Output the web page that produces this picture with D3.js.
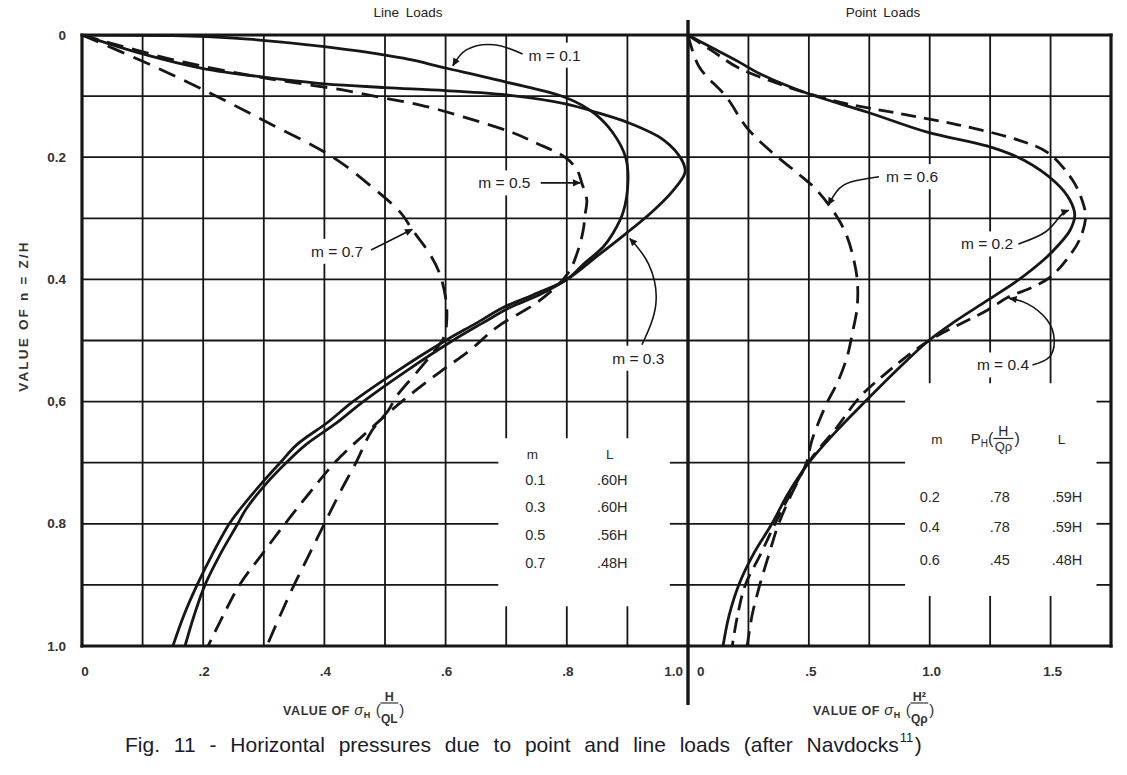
<!DOCTYPE html>
<html><head><meta charset="utf-8">
<script src="https://cdn.jsdelivr.net/npm/d3@7"></script>
<style>
body{margin:0;background:#fff}
svg{display:block;font-family:"Liberation Sans",Arial,Helvetica,sans-serif}
</style>
</head><body>
<svg id="c" width="1127" height="775"></svg>
<script>
// ---------------- DATA ----------------
const nTicks = [0, 0.2, 0.4, 0.6, 0.8, 1.0];
const nTickLabels = ["0", "0.2", "0.4", "0,6", "0.8", "1.0"];
const lineTicks = [0, 0.2, 0.4, 0.6, 0.8, 1.0];
const lineTickLabels = ["0", ".2", ".4", ".6", ".8", "1.0"];
const pointTicks = [0, 0.5, 1.0, 1.5];
const pointTickLabels = ["0", ".5", "1.0", "1.5"];
const nGrid = [0.1, 0.2, 0.3, 0.4, 0.5, 0.6, 0.7, 0.8, 0.9];
const lineGrid = [0.1, 0.2, 0.3, 0.4, 0.5, 0.6, 0.7, 0.8, 0.9];
const pointGrid = [0.25, 0.5, 0.75, 1.0, 1.25, 1.5];

// Line loads: [sigma_H * H/QL, n]
const lineM01 = [[0,0],[0.15,0.001],[0.25,0.005],[0.4,0.019],[0.53,0.038],[0.6,0.054],[0.7,0.077],[0.8,0.103],[0.845,0.128],[0.876,0.16],[0.897,0.2],[0.901,0.238],[0.893,0.29],[0.876,0.325],[0.86,0.347],[0.83,0.373],[0.80,0.40],[0.745,0.425],[0.695,0.446],[0.65,0.472],[0.60,0.50],[0.52,0.55],[0.447,0.60],[0.404,0.635],[0.355,0.67],[0.327,0.70],[0.297,0.733],[0.26,0.777],[0.243,0.80],[0.215,0.85],[0.19,0.90],[0.168,0.95],[0.15,1.0]];
const lineM03 = [[0,0],[0.1,0.031],[0.2,0.055],[0.3,0.069],[0.4,0.08],[0.5,0.086],[0.6,0.091],[0.7,0.098],[0.8,0.113],[0.85,0.127],[0.9,0.143],[0.96,0.172],[0.99,0.205],[0.995,0.225],[0.975,0.255],[0.94,0.29],[0.895,0.327],[0.85,0.362],[0.805,0.397],[0.755,0.425],[0.706,0.446],[0.66,0.472],[0.612,0.50],[0.535,0.55],[0.464,0.60],[0.42,0.635],[0.37,0.67],[0.337,0.70],[0.305,0.733],[0.27,0.777],[0.257,0.80],[0.228,0.85],[0.203,0.90],[0.185,0.95],[0.17,1.0]];
const lineM05 = [[0,0],[0.153,0.041],[0.3,0.07],[0.43,0.09],[0.497,0.103],[0.56,0.115],[0.629,0.134],[0.711,0.16],[0.75,0.177],[0.797,0.2],[0.817,0.221],[0.825,0.243],[0.833,0.27],[0.83,0.295],[0.827,0.32],[0.817,0.357],[0.802,0.39],[0.756,0.434],[0.685,0.478],[0.64,0.516],[0.59,0.552],[0.53,0.598],[0.47,0.65],[0.417,0.70],[0.375,0.75],[0.335,0.80],[0.297,0.85],[0.26,0.90],[0.233,0.95],[0.208,1.0]];
const lineM07 = [[0,0],[0.1,0.043],[0.195,0.087],[0.3,0.14],[0.414,0.20],[0.48,0.25],[0.525,0.29],[0.546,0.32],[0.575,0.36],[0.59,0.39],[0.60,0.43],[0.602,0.465],[0.597,0.495],[0.575,0.525],[0.55,0.555],[0.52,0.59],[0.505,0.615],[0.478,0.648],[0.452,0.70],[0.425,0.75],[0.40,0.80],[0.375,0.85],[0.35,0.90],[0.327,0.95],[0.305,1.0]];

// Point loads: [sigma_H * H^2/Qp, n]
const pointM02 = [[0,0],[0.1,0.021],[0.21,0.044],[0.3,0.064],[0.49,0.095],[0.74,0.126],[0.99,0.159],[1.24,0.182],[1.39,0.205],[1.52,0.241],[1.58,0.27],[1.60,0.295],[1.58,0.32],[1.53,0.345],[1.48,0.365],[1.37,0.40],[1.24,0.434],[1.10,0.47],[0.99,0.502],[0.86,0.55],[0.733,0.60],[0.61,0.65],[0.50,0.70],[0.415,0.75],[0.347,0.80],[0.27,0.85],[0.21,0.90],[0.17,0.95],[0.145,1.0]];
const pointM04 = [[0,0],[0.1,0.026],[0.21,0.054],[0.39,0.082],[0.49,0.095],[0.65,0.112],[0.867,0.128],[1.117,0.147],[1.367,0.172],[1.49,0.193],[1.59,0.237],[1.63,0.27],[1.645,0.298],[1.62,0.335],[1.575,0.363],[1.50,0.396],[1.43,0.412],[1.32,0.43],[1.24,0.45],[0.99,0.502],[0.80,0.56],[0.71,0.593],[0.61,0.645],[0.505,0.696],[0.425,0.75],[0.36,0.80],[0.30,0.85],[0.237,0.90],[0.205,0.95],[0.183,1.0]];
const pointM06 = [[0,0],[0.046,0.052],[0.158,0.101],[0.244,0.152],[0.35,0.193],[0.45,0.225],[0.533,0.254],[0.617,0.298],[0.658,0.33],[0.683,0.363],[0.70,0.40],[0.70,0.445],[0.68,0.488],[0.658,0.527],[0.617,0.57],[0.575,0.602],[0.513,0.663],[0.49,0.70],[0.43,0.75],[0.375,0.80],[0.335,0.85],[0.297,0.90],[0.265,0.95],[0.245,1.0]];

// tables
const lineTableM = ["0.1", "0.3", "0.5", "0.7"];
const lineTableL = [".60H", ".60H", ".56H", ".48H"];
const pointTableM = ["0.2", "0.4", "0.6"];
const pointTableP = [".78", ".78", ".45"];
const pointTableL = [".59H", ".59H", ".48H"];

// ---------------- SCALES ----------------
const svg = d3.select("#c");
const yS = d3.scaleLinear().domain([0, 1]).range([35, 646]);
const xL = d3.scaleLinear().domain([0, 1]).range([82, 688]);
const xR = d3.scaleLinear().domain([0, 1.75]).range([688, 1111]);
const INK = "#161616";

// blank table areas (grid removed)
const lineBlank = {v0: 0.687, v1: 0.97, n0: 0.66, n1: 0.935};
const pointBlank = {v0: 0.898, v1: 1.69, n0: 0.57, n1: 0.918};

const defs = svg.append("defs");
defs.append("marker").attr("id", "ah").attr("viewBox", "0 0 10 10")
  .attr("refX", 9).attr("refY", 5).attr("markerWidth", 10).attr("markerHeight", 8)
  .attr("markerUnits", "userSpaceOnUse").attr("orient", "auto")
  .append("path").attr("d", "M0,0.5 L10,5 L0,9.5 Z").attr("fill", INK);
defs.append("clipPath").attr("id", "clipL").append("rect")
  .attr("x", xL(0)).attr("y", yS(0)).attr("width", xL(1) - xL(0)).attr("height", yS(1) - yS(0));
defs.append("clipPath").attr("id", "clipR").append("rect")
  .attr("x", xR(0)).attr("y", yS(0)).attr("width", xR(1.75) - xR(0)).attr("height", yS(1) - yS(0));

// ---------------- GRID ----------------
function drawGrid(x, vGrid, vMax, blank) {
  const g = svg.append("g").attr("stroke", INK).attr("stroke-width", 1.8);
  vGrid.forEach(v => {
    const segs = (v > blank.v0 && v < blank.v1) ? [[0, blank.n0], [blank.n1, 1]] : [[0, 1]];
    segs.forEach(s => g.append("line").attr("x1", x(v)).attr("x2", x(v)).attr("y1", yS(s[0])).attr("y2", yS(s[1])));
  });
  nGrid.forEach(n => {
    const segs = (n > blank.n0 && n < blank.n1) ? [[0, blank.v0], [blank.v1, vMax]] : [[0, vMax]];
    segs.forEach(s => g.append("line").attr("x1", x(s[0])).attr("x2", x(s[1])).attr("y1", yS(n)).attr("y2", yS(n)));
  });
}
drawGrid(xL, lineGrid, 1, lineBlank);
drawGrid(xR, pointGrid, 1.75, pointBlank);

// borders
const bg = svg.append("g").attr("stroke", INK).attr("stroke-width", 3.2).attr("stroke-linecap", "square");
bg.append("line").attr("x1", xL(0)).attr("x2", xR(1.75)).attr("y1", yS(0)).attr("y2", yS(0));
bg.append("line").attr("x1", xL(0)).attr("x2", xR(1.75)).attr("y1", yS(1)).attr("y2", yS(1));
bg.append("line").attr("x1", xL(0)).attr("x2", xL(0)).attr("y1", yS(0)).attr("y2", yS(1));
bg.append("line").attr("x1", xR(1.75)).attr("x2", xR(1.75)).attr("y1", yS(0)).attr("y2", yS(1));
svg.append("line").attr("x1", xL(1)).attr("x2", xL(1)).attr("y1", 20).attr("y2", 705)
  .attr("stroke", INK).attr("stroke-width", 3.4);

// ---------------- CURVES ----------------
function curve(data, x, clip, dash) {
  const gen = d3.line().x(d => x(d[0])).y(d => yS(d[1])).curve(d3.curveCatmullRom.alpha(0.5));
  svg.append("path").attr("d", gen(data)).attr("fill", "none").attr("stroke", INK)
    .attr("stroke-width", 2.8).attr("stroke-linejoin", "round")
    .attr("stroke-dasharray", dash || null).attr("clip-path", "url(#" + clip + ")");
}
curve(lineM01, xL, "clipL");
curve(lineM03, xL, "clipL");
curve(lineM05, xL, "clipL", "17,9");
curve(lineM07, xL, "clipL", "18,10");
curve(pointM02, xR, "clipR");
curve(pointM04, xR, "clipR", "15,8");
curve(pointM06, xR, "clipR", "17,9");

// ---------------- ANNOTATIONS ----------------
const lineNotes = [
  {t: "m = 0.1", at: [0.78, 0.033], arrow: [[0.727, 0.031], [0.68, 0.016], [0.635, 0.024], [0.612, 0.05]]},
  {t: "m = 0.5", at: [0.697, 0.242], arrow: [[0.757, 0.242], [0.822, 0.242]]},
  {t: "m = 0.7", at: [0.421, 0.354], arrow: [[0.477, 0.352], [0.515, 0.333], [0.545, 0.318]]},
  {t: "m = 0.3", at: [0.918, 0.529], arrow: [[0.924, 0.507], [0.947, 0.44], [0.935, 0.375], [0.904, 0.333]]}
];
const pointNotes = [
  {t: "m = 0.6", at: [0.927, 0.232], arrow: [[0.79, 0.232], [0.67, 0.241], [0.615, 0.256], [0.58, 0.278]]},
  {t: "m = 0.2", at: [1.237, 0.342], arrow: [[1.367, 0.342], [1.48, 0.322], [1.54, 0.296], [1.575, 0.287]]},
  {t: "m = 0.4", at: [1.303, 0.54], arrow: [[1.425, 0.54], [1.495, 0.527], [1.515, 0.498], [1.485, 0.466], [1.405, 0.44], [1.33, 0.431]]}
];
function notes(list, x) {
  list.forEach(o => {
    const g = svg.append("g");
    const t = g.append("text").attr("x", x(o.at[0])).attr("y", yS(o.at[1]))
      .attr("text-anchor", "middle").attr("dominant-baseline", "central")
      .attr("font-size", 15.5).attr("fill", "#222").text(o.t);
    const b = t.node().getBBox();
    g.insert("rect", "text").attr("x", b.x - 4).attr("y", b.y - 4).attr("width", b.width + 8)
      .attr("height", b.height + 8).attr("fill", "#fff");
    const gen = d3.line().x(d => x(d[0])).y(d => yS(d[1])).curve(d3.curveNatural);
    svg.append("path").attr("d", gen(o.arrow)).attr("fill", "none").attr("stroke", INK)
      .attr("stroke-width", 1.6).attr("marker-end", "url(#ah)");
  });
}
notes(lineNotes, xL);
notes(pointNotes, xR);

// ---------------- TABLES ----------------
const tt = {size: 14.5, fill: "#2a2a2a"};
function cell(x, y, s, size) {
  return svg.append("text").attr("x", x).attr("y", y).attr("text-anchor", "middle")
    .attr("dominant-baseline", "central").attr("font-size", size || tt.size).attr("fill", tt.fill).text(s);
}
cell(xL(0.743), yS(0.686), "m", 13.5);
cell(xL(0.871), yS(0.686), "L", 13.5);
const lineRowsN = [0.728, 0.773, 0.818, 0.864];
lineTableM.forEach((s, i) => cell(xL(0.748), yS(lineRowsN[i]), s));
lineTableL.forEach((s, i) => cell(xL(0.875), yS(lineRowsN[i]), s));

cell(xR(1.03), yS(0.662), "m", 13.5);
cell(xR(1.545), yS(0.662), "L", 13.5);
// P_H (H / Qp) header
(function () {
  const cy = yS(0.662);
  const x0 = xR(1.17);
  const t = svg.append("text").attr("x", x0).attr("y", cy + 5).attr("font-size", 15).attr("fill", tt.fill);
  t.append("tspan").text("P");
  t.append("tspan").attr("font-size", 10).attr("dy", 3).text("H");
  t.append("tspan").attr("dy", -3).attr("font-size", 16).text("(");
  const e = x0 + t.node().getComputedTextLength();
  const fc = e + 10;
  svg.append("text").attr("x", fc).attr("y", cy - 3).attr("text-anchor", "middle").attr("font-size", 14).attr("fill", tt.fill).text("H");
  svg.append("line").attr("x1", fc - 10).attr("x2", fc + 10).attr("y1", cy - 1).attr("y2", cy - 1).attr("stroke", tt.fill).attr("stroke-width", 1.2);
  svg.append("text").attr("x", fc).attr("y", cy + 12).attr("text-anchor", "middle").attr("font-size", 13).attr("fill", tt.fill).text("Qρ");
  svg.append("text").attr("x", fc + 11).attr("y", cy + 5).attr("font-size", 16).attr("fill", tt.fill).text(")");
})();
const pointRowsN = [0.756, 0.805, 0.859];
pointTableM.forEach((s, i) => cell(xR(1.0), yS(pointRowsN[i]), s));
pointTableP.forEach((s, i) => cell(xR(1.29), yS(pointRowsN[i]), s));
pointTableL.forEach((s, i) => cell(xR(1.568), yS(pointRowsN[i]), s));

// ---------------- AXES TEXT ----------------
const tickFont = {size: 13.5, weight: "bold", fill: "#333"};
nTicks.forEach((n, i) => svg.append("text").attr("x", 66).attr("y", yS(n))
  .attr("text-anchor", "end").attr("dominant-baseline", "central")
  .attr("font-size", tickFont.size).attr("font-weight", tickFont.weight).attr("fill", tickFont.fill)
  .text(nTickLabels[i]));
lineTicks.forEach((v, i) => {
  const last = i === lineTicks.length - 1;
  svg.append("text").attr("x", xL(v) + (i === 0 ? 3 : (last ? -5 : 1))).attr("y", 671)
    .attr("text-anchor", last ? "end" : "middle").attr("dominant-baseline", "central")
    .attr("font-size", tickFont.size).attr("font-weight", tickFont.weight).attr("fill", tickFont.fill)
    .text(lineTickLabels[i]);
});
pointTicks.forEach((v, i) => {
  svg.append("text").attr("x", xR(v) + (i === 0 ? 9 : 2)).attr("y", 671)
    .attr("text-anchor", i === 0 ? "start" : "middle").attr("dominant-baseline", "central")
    .attr("font-size", tickFont.size).attr("font-weight", tickFont.weight).attr("fill", tickFont.fill)
    .text(pointTickLabels[i]);
});

// y axis title
svg.append("text").attr("transform", "translate(28,316) rotate(-90)")
  .attr("text-anchor", "middle").attr("font-size", 13.5).attr("font-weight", "bold")
  .attr("fill", "#333").attr("letter-spacing", 2.2).text("VALUE OF n = Z/H");

// x axis titles
function xTitle(x, y, numer, denom) {
  const t = svg.append("text").attr("x", x).attr("y", y).attr("font-size", 12.5)
    .attr("font-weight", "bold").attr("fill", "#333").attr("letter-spacing", 0.6);
  t.append("tspan").text("VALUE OF ");
  t.append("tspan").attr("font-size", 15).attr("font-weight", "normal").attr("font-style", "italic").text("σ");
  t.append("tspan").attr("font-size", 9).attr("dy", 3).text("H");
  t.append("tspan").attr("dy", -3).attr("font-size", 15).attr("font-weight", "normal").text(" (");
  const e = x + t.node().getComputedTextLength();
  const fc = e + 8;
  const f = svg.append("g").attr("fill", "#333").attr("font-weight", "bold");
  f.append("text").attr("x", fc).attr("y", y - 14).attr("text-anchor", "middle").attr("font-size", 12.5).text(numer);
  f.append("line").attr("x1", fc - 9).attr("x2", fc + 9).attr("y1", y - 12).attr("y2", y - 12).attr("stroke", "#333").attr("stroke-width", 1.2);
  f.append("text").attr("x", fc).attr("y", y + 8).attr("text-anchor", "middle").attr("font-size", 12).text(denom);
  f.append("text").attr("x", fc + 10).attr("y", y).attr("font-size", 15).attr("font-weight", "normal").text(")");
}
xTitle(283, 715, "H", "QL");
xTitle(813, 715, "H²", "Qρ");

// panel titles
svg.append("text").attr("x", 408).attr("y", 12).attr("text-anchor", "middle").attr("dominant-baseline", "central")
  .attr("font-size", 13.5).attr("fill", "#222").attr("word-spacing", 3).text("Line Loads");
svg.append("text").attr("x", 883).attr("y", 12).attr("text-anchor", "middle").attr("dominant-baseline", "central")
  .attr("font-size", 13.5).attr("fill", "#222").attr("word-spacing", 3).text("Point Loads");

// caption
(function () {
  const t = svg.append("text").attr("x", 125).attr("y", 752).attr("font-size", 21)
    .attr("fill", "#1b1b2a").attr("word-spacing", 8)
    .text("Fig. 11 - Horizontal pressures due to point and line loads (after Navdocks");
  const e = 125 + t.node().getComputedTextLength();
  svg.append("text").attr("x", e + 1).attr("y", 742).attr("font-size", 13).attr("fill", "#1b1b2a").text("11");
  svg.append("text").attr("x", e + 16).attr("y", 752).attr("font-size", 21).attr("fill", "#1b1b2a").text(")");
})();
</script>
</body></html>
